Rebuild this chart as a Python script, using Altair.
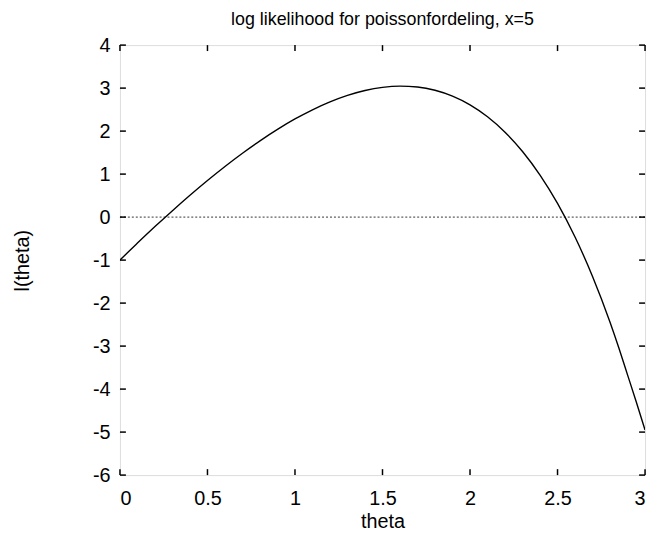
import altair as alt
import pandas as pd

# curve values
theta = [0.0, 0.05, 0.1, 0.2, 0.3, 0.4, 0.5, 0.6, 0.7, 0.8, 0.9, 1.0, 1.1, 1.2, 1.3,
         1.4, 1.5, 1.6, 1.7, 1.8, 1.9, 2.0, 2.1, 2.2, 2.3, 2.4, 2.5, 2.6, 2.7, 2.8,
         2.85, 2.9, 2.95, 3.0]
loglik = [-1.0, -0.80, -0.605, -0.221, 0.150, 0.508, 0.851, 1.178, 1.486, 1.774,
          2.040, 2.282, 2.496, 2.680, 2.831, 2.945, 3.018, 3.047, 3.026, 2.950,
          2.814, 2.611, 2.334, 1.975, 1.526, 0.977, 0.318, -0.464, -1.380, -2.445,
          -3.04, -3.67, -4.30, -4.95]

x_ticks = [0, 0.5, 1, 1.5, 2, 2.5, 3]
y_ticks = [4, 3, 2, 1, 0, -1, -2, -3, -4, -5, -6]
zero_line = [0]

W, H = 530, 434
TL = 6  # tick length

curve_df = pd.DataFrame({"theta": theta, "l": loglik})
xt_df = pd.DataFrame({"v": x_ticks})
yt_df = pd.DataFrame({"v": y_ticks})
zero_df = pd.DataFrame({"v": zero_line})

xscale = alt.Scale(domain=[0, 3], nice=False, zero=False)
yscale = alt.Scale(domain=[-6, 4], nice=False, zero=False)

font = "Liberation Sans"

curve = alt.Chart(curve_df).mark_line(
    color="black", strokeWidth=1.4, interpolate="monotone", clip=True
).encode(
    x=alt.X("theta:Q", scale=xscale,
            axis=alt.Axis(values=x_ticks, tickSize=0, domain=False, grid=False,
                          labelFont=font, labelFontSize=20, labelColor="black",
                          labelPadding=14, labelExpr="datum.value + ''",
                          title="theta", titleFont=font, titleFontSize=20,
                          titleFontWeight="normal", titleColor="black",
                          titleY=47, titleBaseline="middle")),
    y=alt.Y("l:Q", scale=yscale,
            axis=alt.Axis(values=y_ticks, tickSize=0, domain=False, grid=False,
                          labelFont=font, labelFontSize=20, labelColor="black",
                          labelPadding=10, labelExpr="datum.value + ''",
                          title="l(theta)", titleFont=font, titleFontSize=20,
                          titleFontWeight="normal", titleColor="black",
                          titleX=-98, titleY=H / 2, titleAlign="center",
                          titleBaseline="middle", titleAngle=-90)),
)

zero = alt.Chart(zero_df).mark_rule(
    color="black", strokeWidth=0.8, strokeDash=[2, 2]
).encode(y=alt.Y("v:Q", scale=yscale), x=alt.value(0), x2=alt.value(W))

bottom_ticks = alt.Chart(xt_df).mark_rule(color="black", strokeWidth=1.5).encode(
    x=alt.X("v:Q", scale=xscale), y=alt.value(H), y2=alt.value(H - TL))
top_ticks = alt.Chart(xt_df).mark_rule(color="black", strokeWidth=1.5).encode(
    x=alt.X("v:Q", scale=xscale), y=alt.value(0), y2=alt.value(TL))
left_ticks = alt.Chart(yt_df).mark_rule(color="black", strokeWidth=1.5).encode(
    y=alt.Y("v:Q", scale=yscale), x=alt.value(0), x2=alt.value(TL))
right_ticks = alt.Chart(yt_df).mark_rule(color="black", strokeWidth=1.5).encode(
    y=alt.Y("v:Q", scale=yscale), x=alt.value(W), x2=alt.value(W - TL))

chart = alt.layer(
    zero, bottom_ticks, top_ticks, left_ticks, right_ticks, curve
).properties(
    width=W, height=H,
    title=alt.TitleParams("log likelihood  for poissonfordeling, x=5",
                          font=font, fontSize=18, fontWeight="normal",
                          color="black", anchor="middle", offset=6),
    autosize=alt.AutoSizeParams(type="none"),
    padding={"left": 113, "top": 35, "right": 5, "bottom": 56},
).configure_view(
    stroke="black", strokeWidth=2
).configure(background="white")

chart.save("out.html", embed_options={"renderer": "svg", "actions": False})
